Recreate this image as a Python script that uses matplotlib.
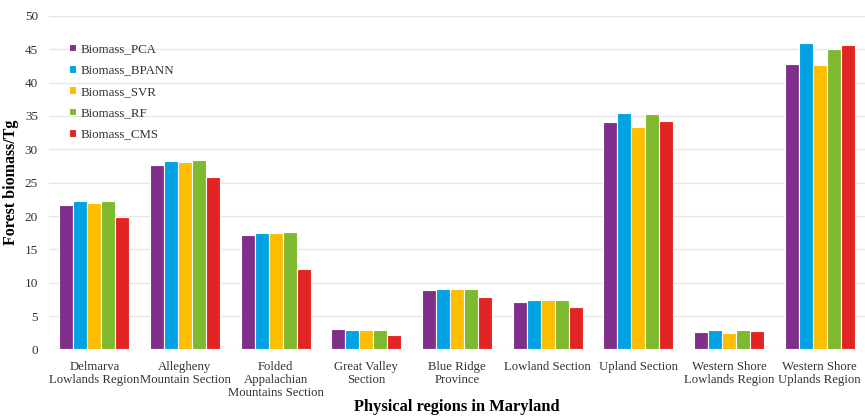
import matplotlib.pyplot as plt
import numpy as np

regions = ['Delmarva\nLowlands Region', 'Allegheny\nMountain Section',
           'Folded\nAppalachian\nMountains Section', 'Great Valley\nSection',
           'Blue Ridge\nProvince', 'Lowland Section', 'Upland Section',
           'Western Shore\nLowlands Region', 'Western Shore\nUplands Region']

biomass_pca = [21.7, 27.7, 17.2, 3.0, 8.9, 7.1, 34.1, 2.6, 42.8]
biomass_bpann = [22.2, 28.2, 17.4, 2.9, 9.1, 7.4, 35.5, 2.9, 45.9]
biomass_svr = [21.9, 28.1, 17.4, 2.9, 9.1, 7.4, 33.3, 2.4, 42.6]
biomass_rf = [22.3, 28.4, 17.6, 2.9, 9.1, 7.4, 35.3, 2.9, 45.1]
biomass_cms = [19.8, 25.9, 12.0, 2.1, 7.9, 6.4, 34.2, 2.8, 45.6]

series = [('Biomass_PCA', biomass_pca, '#7F2F8A'),
          ('Biomass_BPANN', biomass_bpann, '#00A2E3'),
          ('Biomass_SVR', biomass_svr, '#FDBE00'),
          ('Biomass_RF', biomass_rf, '#7FB92F'),
          ('Biomass_CMS', biomass_cms, '#E32424')]

plt.rcParams['font.family'] = ['Liberation Serif', 'DejaVu Serif']
txt_col = '#333333'

fig = plt.figure(figsize=(8.65, 4.17), dpi=100)
ax = fig.add_axes([49 / 865, 0.162, 1 - 49 / 865, 0.8])

x = np.arange(len(regions))
w = 0.154
for i, (name, vals, col) in enumerate(series):
    ax.bar(x + (i - 2) * w, vals, width=w, color=col, edgecolor='white',
           linewidth=0.8, label=name, zorder=3)

ax.set_xlim(-0.5, 8.5)
ax.set_ylim(0, 50)
ax.set_yticks(np.arange(0, 51, 5))
ax.yaxis.grid(True, color='#E6E6E6', linewidth=1.0, zorder=0)
ax.set_axisbelow(True)
for s in ax.spines.values():
    s.set_visible(False)
ax.tick_params(axis='both', length=0, labelsize=9.5, labelcolor=txt_col)
ax.tick_params(axis='y', pad=8)
ax.set_xticks(x)
ax.set_xticklabels(regions, linespacing=1.15, fontsize=9.2)
ax.tick_params(axis='x', pad=8)

ax.set_ylabel('Forest biomass/Tg', fontsize=11.5, fontweight='bold', labelpad=4)
ax.set_xlabel('Physical regions in Maryland', fontsize=11.8, fontweight='bold',
              va='baseline')
ax.xaxis.set_label_coords(0.5, -0.184)

leg = ax.legend(loc='upper left', bbox_to_anchor=(0.01, 0.953), frameon=False,
                fontsize=9.3, handlelength=0.55, handleheight=0.55,
                handletextpad=0.35, labelspacing=0.72)
for t in leg.get_texts():
    t.set_color(txt_col)

fig.savefig('out.png', dpi=100)
